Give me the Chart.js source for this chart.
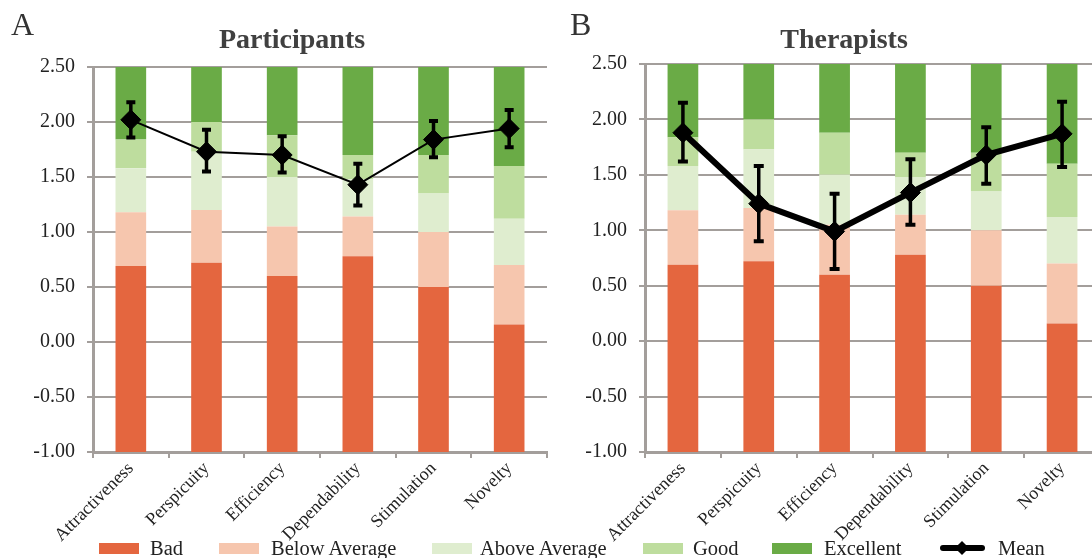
<!DOCTYPE html>
<html><head><meta charset="utf-8">
<script src="https://cdn.jsdelivr.net/npm/chart.js@4.4.1/dist/chart.umd.min.js"></script>
<style>
html,body{margin:0;padding:0;width:1092px;height:558px;overflow:hidden;background:#fff;font-family:"Liberation Serif","Times New Roman",serif;}
#wrap{position:relative;width:1092px;height:558px;overflow:hidden;}
canvas{position:absolute;top:0;}
.txt{position:absolute;white-space:nowrap;}
.panel{font-size:32px;line-height:32px;color:#333;}
.title{font-size:28px;line-height:28px;font-weight:bold;color:#404040;text-align:center;width:300px;}
.leg{font-size:20.5px;line-height:20px;color:#222;}
.sw{position:absolute;width:40px;height:11px;top:543px;}
</style></head><body>
<div id="wrap">
<canvas id="cA" width="560" height="558" style="left:0"></canvas>
<canvas id="cB" width="560" height="558" style="left:560px"></canvas>
<div class="txt panel" style="left:11px;top:8px">A</div>
<div class="txt panel" style="left:570px;top:8px">B</div>
<div class="txt title" style="left:142px;top:25px">Participants</div>
<div class="txt title" style="left:694px;top:25px">Therapists</div>
<div id="legend"></div>
</div>
<script>
// ---- data ----
const categories = ["Attractiveness","Perspicuity","Efficiency","Dependability","Stimulation","Novelty"];
const benchmarkLevels = ["Bad","Below Average","Above Average","Good","Excellent"];
const levelColors = ["#E4663F","#F6C6AE","#DFEDCF","#BEDD9E","#6AAB46"];
const axisMin = -1.0;
const axisMax = 2.5;
const yTickValues = [-1.0,-0.5,0.0,0.5,1.0,1.5,2.0,2.5];
// upper bounds of each benchmark band per category
const badUpper   = [0.69,0.72,0.60,0.78,0.50,0.16];
const belowUpper = [1.18,1.20,1.05,1.14,1.00,0.70];
const aboveUpper = [1.58,1.73,1.50,1.48,1.35,1.12];
const goodUpper  = [1.84,2.00,1.88,1.70,1.70,1.60];
const excUpper   = [2.50,2.50,2.50,2.50,2.50,2.50];
// means and confidence intervals
const participantsMean  = [2.02,1.73,1.70,1.43,1.84,1.94];
const participantsLower = [1.86,1.55,1.54,1.24,1.68,1.77];
const participantsUpper = [2.18,1.93,1.87,1.62,2.01,2.11];
const therapistsMean  = [1.88,1.24,0.99,1.34,1.68,1.87];
const therapistsLower = [1.62,0.90,0.65,1.05,1.42,1.57];
const therapistsUpper = [2.15,1.58,1.33,1.64,1.93,2.16];

const bandEdges = [categories.map(()=>axisMin), badUpper, belowUpper, aboveUpper, goodUpper, excUpper];

function makeErrorBars(lower, upper, lw, capW, capT){
  return {
    id:'errorBars',
    afterDatasetsDraw(chart){
      const xs = chart.scales.x, ys = chart.scales.y, ctx = chart.ctx;
      ctx.save();
      ctx.strokeStyle = '#000';
      lower.forEach((lo,i)=>{
        const px = xs.getPixelForValue(i);
        const yl = ys.getPixelForValue(lo), yh = ys.getPixelForValue(upper[i]);
        ctx.lineWidth = lw;
        ctx.beginPath(); ctx.moveTo(px,yl); ctx.lineTo(px,yh); ctx.stroke();
        ctx.lineWidth = capT;
        ctx.beginPath();
        ctx.moveTo(px-capW/2,yl); ctx.lineTo(px+capW/2,yl);
        ctx.moveTo(px-capW/2,yh); ctx.lineTo(px+capW/2,yh);
        ctx.stroke();
      });
      ctx.restore();
    }
  };
}

function buildChart(id, mean, lower, upper, cfg){
  const datasets = [{
    type:'line', label:'Mean', data:mean, borderColor:'#000', backgroundColor:'#000',
    borderWidth:cfg.lineW, pointStyle:'rectRot', pointRadius:cfg.ptR, pointBorderWidth:1,
    pointBackgroundColor:'#000', pointBorderColor:'#000', order:0, tension:0
  }];
  benchmarkLevels.forEach((lvl,k)=>{
    datasets.push({
      type:'bar', label:lvl,
      data: categories.map((c,i)=>[bandEdges[k][i], bandEdges[k+1][i]]),
      backgroundColor: levelColors[k], borderWidth:0,
      barPercentage:0.405, categoryPercentage:1.0, order:1
    });
  });
  return new Chart(document.getElementById(id), {
    data:{labels:categories, datasets},
    options:{
      responsive:false, animation:false, devicePixelRatio:1,
      layout:{padding:{left:0, right:cfg.padR, top:cfg.top, bottom:0}},
      plugins:{legend:{display:false}, tooltip:{enabled:false}, title:{display:false}},
      scales:{
        x:{
          stacked:true,
          offset:true,
          grid:{drawOnChartArea:false, drawTicks:true, tickLength:6, color:'#a39e9b', lineWidth:2, offset:true},
          border:{display:true, color:'#a39e9b', width:3},
          ticks:{autoSkip:false, maxRotation:45, minRotation:45, padding:0, color:'#222',
                 font:{family:'"Liberation Serif", serif', size:18}},
          afterFit(s){ s.height = 106; }
        },
        y:{
          stacked:false, min:axisMin, max:axisMax,
          afterBuildTicks(s){ s.ticks = yTickValues.map(v=>({value:v})); },
          grid:{color:'#a39e9b', lineWidth:2, tickLength:6, drawTicks:true},
          border:{display:true, color:'#a39e9b', width:3},
          ticks:{padding:12, color:'#222', callback:v=>Number(v).toFixed(2),
                 font:{family:'"Liberation Serif", serif', size:20}},
          afterFit(s){ s.width = cfg.yW; }
        }
      }
    },
    plugins:[makeErrorBars(lower, upper, cfg.ebW, cfg.capW, cfg.capT)]
  });
}

buildChart('cA', participantsMean, participantsLower, participantsUpper,
  {lineW:2, ptR:10, ebW:3.5, capW:9, capT:4, top:67, padR:13, yW:93});
buildChart('cB', therapistsMean, therapistsLower, therapistsUpper,
  {lineW:6, ptR:10, ebW:3.5, capW:10, capT:4, top:64, padR:20, yW:85});

// ---- legend (HTML) ----
const legendSwatchX = [99,219,432,643,772];
const legendTextX = [150,271,480,693,824];
const leg = document.getElementById('legend');
benchmarkLevels.forEach((lvl,k)=>{
  const s = document.createElement('div');
  s.className='sw'; s.style.left=legendSwatchX[k]+'px'; s.style.background=levelColors[k];
  leg.appendChild(s);
  const t = document.createElement('div');
  t.className='txt leg'; t.style.left=legendTextX[k]+'px'; t.style.top='538px'; t.textContent=lvl;
  leg.appendChild(t);
});
const ml = document.createElement('div');
ml.style.cssText='position:absolute;left:940px;top:545px;width:45px;height:6px;background:#000;border-radius:3px;';
leg.appendChild(ml);
const md = document.createElement('div');
md.style.cssText='position:absolute;left:957px;top:543px;width:10px;height:10px;background:#000;transform:rotate(45deg);';
leg.appendChild(md);
const mt = document.createElement('div');
mt.className='txt leg'; mt.style.left='998px'; mt.style.top='538px'; mt.textContent='Mean';
leg.appendChild(mt);
</script>
</body></html>
